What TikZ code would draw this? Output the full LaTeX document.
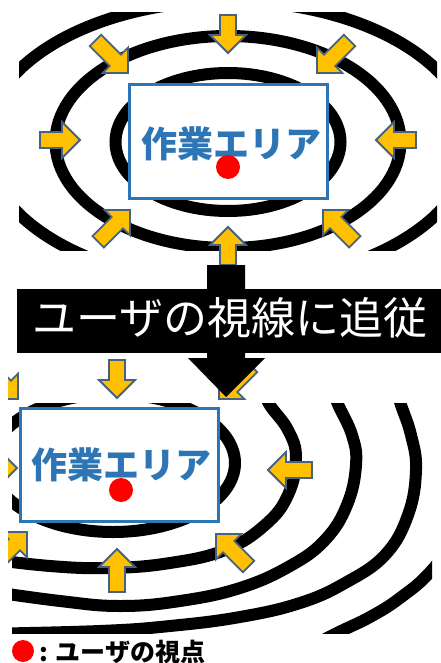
\documentclass[tikz,border=0pt]{standalone}
\usepackage{fontspec}
\newfontfamily\jp{Noto Sans CJK JP}
\definecolor{ybody}{RGB}{255,192,0}
\definecolor{yedge}{RGB}{70,98,130}
\definecolor{wblue}{RGB}{46,117,182}
\tikzset{
  ring/.style={draw=black, line width=12pt},
  yarrow/.style={fill=ybody, draw=yedge, line width=1.8pt, line join=miter},
  wbox/.style={draw=wblue, fill=white, line width=3pt, minimum width=198pt, minimum height=113pt, inner sep=0},
  wtext/.style={text=wblue, inner sep=0, font=\jp\bfseries\fontsize{36}{36}\selectfont},
  reddot/.style={circle, fill=red, minimum size=24pt, inner sep=0},
}
\newcommand{\blockarrow}[4]{%
  \begin{scope}[shift={(#1,#2)},rotate=#3]
    \draw[yarrow] (0,0) -- (-18,18) -- (-18,8) -- (-#4,8) -- (-#4,-8) -- (-18,-8) -- (-18,-18) -- cycle;
  \end{scope}}
\begin{document}
\begin{tikzpicture}[x=1pt,y=-1pt]
\useasboundingbox (0,0) rectangle (441,663);
\fill[white] (0,0) rectangle (441,663);
% ---------- top panel rings
\begin{scope}
  \clip (19,13) rectangle (437,250);
  \draw[ring] (228,142) ellipse [x radius=112.5pt, y radius=69pt];
  \draw[ring] (228,142) ellipse [x radius=172.5pt, y radius=106pt];
  \draw[ring] (228,142) ellipse [x radius=243pt, y radius=141pt];
\end{scope}
% ---------- top panel arrows
\blockarrow{228}{53}{-90}{38}
\blockarrow{128}{73}{-45}{46}
\blockarrow{317}{73}{-135}{46}
\blockarrow{80}{140}{0}{40}
\blockarrow{376}{140}{180}{40}
\blockarrow{130}{210}{45}{45}
\blockarrow{228}{227}{90}{38}
\blockarrow{323}{210}{135}{45}
% ---------- top work area
\node[wbox] (area1) at (228,141.5) {};
\node[wtext] (text1) at (231,144) {作業エリア};
\node[reddot] (dot1) at (228,167) {};
% ---------- bottom panel rings
\begin{scope}
  \clip (12,403) rectangle (432,633);
  \draw[ring] (113,463) ellipse [x radius=122pt, y radius=69pt];
  \draw[ring] plot[smooth, tension=0.7] coordinates {(262,380) (268,402) (288,430) (296,458) (288,495) (265,525) (225,550) (170,563) (110,568) (50,566) (-20,558)};
  \draw[ring] plot[smooth, tension=0.7] coordinates {(330,380) (337,402) (352,435) (356,465) (347,505) (325,540) (290,566) (240,588) (180,601) (120,606) (60,601) (-20,590)};
  \draw[ring] plot[smooth, tension=0.7] coordinates {(394,380) (400,402) (411,435) (416,470) (408,515) (385,555) (345,583) (300,603) (240,617) (170,626) (100,631) (-20,634)};
  \draw[ring] plot[smooth, tension=0.7] coordinates {(470,520) (432,570) (400,598) (370,617) (337,633) (300,652)};
\end{scope}
% ---------- bottom panel arrows
\begin{scope}
  \clip (8,340) rectangle (441,640);
  \blockarrow{117}{398}{-90}{38}
  \blockarrow{219}{399}{-135}{46}
  \blockarrow{18}{399}{-45}{46}
  \blockarrow{17}{468}{0}{40}
  \blockarrow{27}{532}{45}{44}
  \blockarrow{117}{549}{90}{43}
  \blockarrow{216}{534}{135}{46}
  \blockarrow{268}{470}{180}{44}
\end{scope}
% ---------- big black arrow and banner
\fill[black] (207,265) -- (245,265) -- (245,358) -- (265,358) -- (226,397) -- (188,358) -- (207,358) -- cycle;
\node[fill=black, minimum width=424pt, minimum height=64pt, inner sep=0] (banner) at (229,321) {};
\node[text=white, inner sep=0, font=\jp\fontsize{44}{44}\selectfont] (bannertext) at (230,318) {ユーザの視線に追従};
% ---------- bottom work area
\node[wbox] (area2) at (119,465) {};
\node[wtext] (text2) at (121,465) {作業エリア};
\node[reddot] (dot2) at (121,490) {};
% ---------- legend
\node[circle, fill=red, minimum size=22pt, inner sep=0] (legdot) at (23,651) {};
\node[anchor=west, inner sep=0, font=\jp\bfseries\fontsize{25}{25}\selectfont] (legtext) at (39,652) {: ユーザの視点};
\end{tikzpicture}
\end{document}
